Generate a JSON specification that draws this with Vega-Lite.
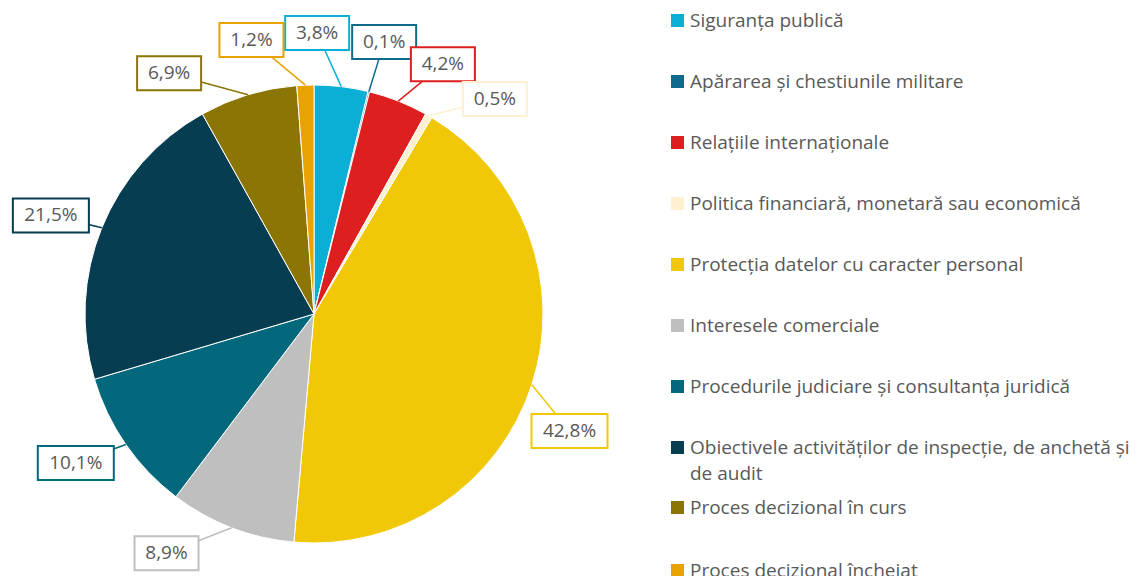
{
  "$schema": "https://vega.github.io/schema/vega-lite/v6.json",
  "width": 628,
  "height": 524,
  "autosize": "none",
  "padding": {"left": 0, "top": 52, "right": 517, "bottom": 0},
  "background": "white",
  "config": {"view": {"stroke": null}, "font": "Open Sans", "style": {"guide-label": {"lineHeight": 26}}},
  "data": {
    "values": [
      {"ord": 0, "cat": "Siguranța publică", "pct": 3.8, "lbl": "3,8%"},
      {"ord": 1, "cat": "Apărarea și chestiunile militare", "pct": 0.1, "lbl": "0,1%"},
      {"ord": 2, "cat": "Relațiile internaționale", "pct": 4.2, "lbl": "4,2%"},
      {"ord": 3, "cat": "Politica financiară, monetară sau economică", "pct": 0.5, "lbl": "0,5%"},
      {"ord": 4, "cat": "Protecția datelor cu caracter personal", "pct": 42.8, "lbl": "42,8%"},
      {"ord": 5, "cat": "Interesele comerciale", "pct": 8.9, "lbl": "8,9%"},
      {"ord": 6, "cat": "Procedurile judiciare și consultanța juridică", "pct": 10.1, "lbl": "10,1%"},
      {"ord": 7, "cat": "Obiectivele activităților de inspecție, de anchetă și de audit", "pct": 21.5, "lbl": "21,5%"},
      {"ord": 8, "cat": "Proces decizional în curs", "pct": 6.9, "lbl": "6,9%"},
      {"ord": 9, "cat": "Proces decizional încheiat", "pct": 1.2, "lbl": "1,2%"}
    ]
  },
  "transform": [
    {"window": [{"op": "sum", "field": "pct", "as": "cum"}], "sort": [{"field": "ord"}], "frame": [null, 0]},
    {"calculate": "datum.cum - datum.pct", "as": "start"},
    {"calculate": "(datum.start + datum.cum) / 2", "as": "mid"},
    {"calculate": "datum.mid * 2 * PI / 100", "as": "midRad"},
    {"calculate": "datum.midRad + [-6.2, 0.6, 5.7, 10, 6.6, 10.6, 2.7, -1.6, -14.3, -10.7][datum.ord] * PI / 180", "as": "labRad"},
    {"calculate": "281 * sin(datum.labRad)", "as": "lx"},
    {"calculate": "281 * cos(datum.labRad)", "as": "ly"},
    {"calculate": "229 * sin(datum.midRad)", "as": "ex"},
    {"calculate": "229 * cos(datum.midRad)", "as": "ey"},
    {"calculate": "(16 + 12 * length(datum.lbl)) / 2", "as": "hw"},
    {"calculate": "datum.lx - datum.hw", "as": "bx1"},
    {"calculate": "datum.lx + datum.hw", "as": "bx2"},
    {"calculate": "datum.ly - 17", "as": "by1"},
    {"calculate": "datum.ly + 17", "as": "by2"}
  ],
  "layer": [
    {
      "mark": {"type": "arc", "outerRadius": 229, "stroke": "white", "strokeWidth": 1},
      "encoding": {
        "theta": {"field": "start", "type": "quantitative", "scale": {"domain": [0, 100], "range": [0, 6.283185307179586]}},
        "theta2": {"field": "cum"},
        "color": {
          "field": "cat",
          "type": "nominal",
          "sort": null,
          "scale": {
            "domain": ["Siguranța publică", "Apărarea și chestiunile militare", "Relațiile internaționale", "Politica financiară, monetară sau economică", "Protecția datelor cu caracter personal", "Interesele comerciale", "Procedurile judiciare și consultanța juridică", "Obiectivele activităților de inspecție, de anchetă și de audit", "Proces decizional în curs", "Proces decizional încheiat"],
            "range": ["#0BAFD6", "#0F6A8B", "#DD1F1F", "#FFF0D2", "#F0C808", "#BFBFBF", "#04687D", "#073D50", "#8B7505", "#E8A202"]
          },
          "legend": {
            "title": null,
            "orient": "none",
            "legendX": 668,
            "legendY": -41,
            "padding": 0,
            "values": ["Siguranța publică", "Apărarea și chestiunile militare", "Relațiile internaționale", "Politica financiară, monetară sau economică", "Protecția datelor cu caracter personal", "Interesele comerciale", "Procedurile judiciare și consultanța juridică", "Obiectivele activităților de inspecție, de anchetă și de audit"],
            "symbolType": "square",
            "symbolSize": 169,
            "symbolStrokeWidth": 0,
            "labelFont": "Open Sans",
            "labelFontSize": 19,
            "labelColor": "#595959",
            "labelLimit": 500,
            "labelOffset": 3,
            "rowPadding": 41,
            "labelExpr": "datum.label == 'Obiectivele activităților de inspecție, de anchetă și de audit' ? ['Obiectivele activităților de inspecție, de anchetă și', 'de audit'] : datum.label"
          }
        }
      }
    },
    {
      "mark": {"type": "rule", "strokeWidth": 1.5},
      "encoding": {
        "x": {"field": "ex", "type": "quantitative", "scale": {"domain": [-314, 314], "nice": false, "zero": false}, "axis": null},
        "y": {"field": "ey", "type": "quantitative", "scale": {"domain": [-262, 262], "nice": false, "zero": false}, "axis": null},
        "x2": {"field": "lx"},
        "y2": {"field": "ly"},
        "stroke": {
          "field": "cat",
          "type": "nominal",
          "scale": {"domain": ["Proces decizional în curs", "Proces decizional încheiat", "Siguranța publică", "Apărarea și chestiunile militare", "Relațiile internaționale", "Politica financiară, monetară sau economică", "Protecția datelor cu caracter personal", "Interesele comerciale", "Procedurile judiciare și consultanța juridică", "Obiectivele activităților de inspecție, de anchetă și de audit"], "range": ["#8B7505", "#E8A202", "#0BAFD6", "#0F6A8B", "#DD1F1F", "#FFF0D2", "#F0C808", "#BFBFBF", "#04687D", "#073D50"]},
          "legend": {
            "title": null,
            "orient": "none",
            "legendX": 668,
            "legendY": 446,
            "padding": 0,
            "values": ["Proces decizional în curs", "Proces decizional încheiat"],
            "symbolType": "square",
            "symbolSize": 42,
            "symbolStrokeWidth": 6.5,
            "symbolFillColor": "transparent",
            "labelFont": "Open Sans",
            "labelFontSize": 19,
            "labelColor": "#595959",
            "labelLimit": 500,
            "labelOffset": 3,
            "rowPadding": 30
          }
        }
      }
    },
    {
      "mark": {"type": "rect", "fill": "white", "strokeWidth": 2},
      "encoding": {
        "x": {"field": "bx1", "type": "quantitative"},
        "x2": {"field": "bx2"},
        "y": {"field": "by1", "type": "quantitative"},
        "y2": {"field": "by2"},
        "stroke": {"field": "cat", "type": "nominal"}
      }
    },
    {
      "mark": {"type": "text", "font": "Open Sans", "fontSize": 19, "color": "#595959", "align": "center", "baseline": "middle"},
      "encoding": {
        "x": {"field": "lx", "type": "quantitative"},
        "y": {"field": "ly", "type": "quantitative"},
        "text": {"field": "lbl"}
      }
    }
  ]
}
